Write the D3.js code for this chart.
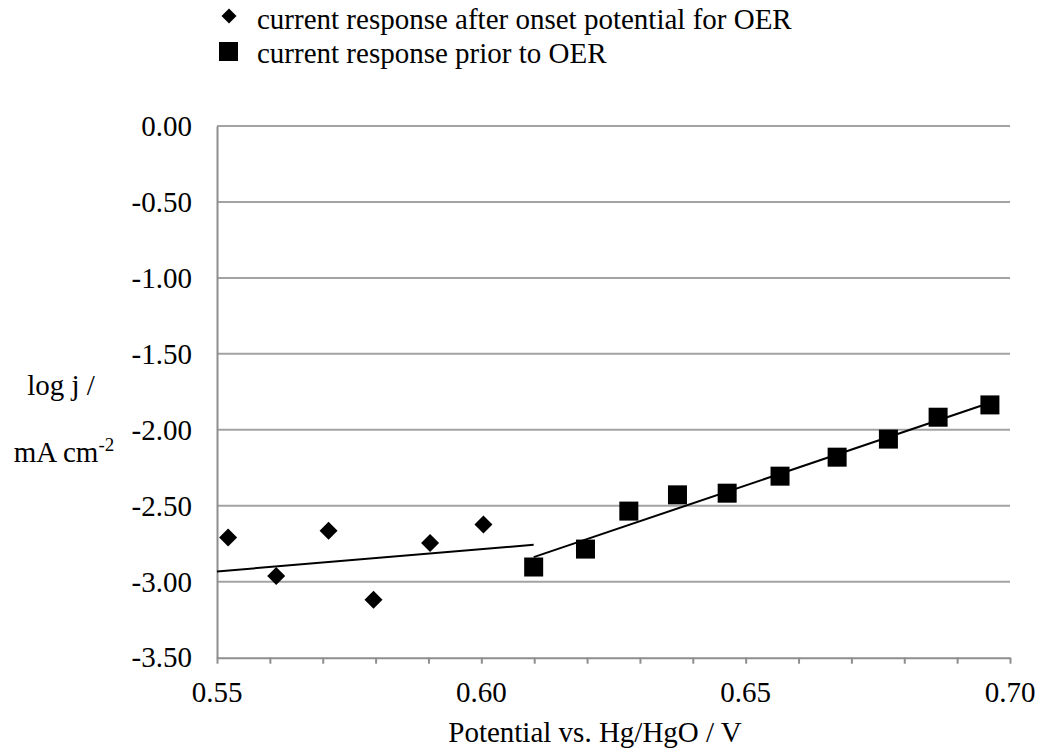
<!DOCTYPE html>
<html>
<head>
<meta charset="utf-8">
<script src="https://cdn.jsdelivr.net/npm/d3@7"></script>
<style>
  html, body { margin: 0; padding: 0; background: #fff; }
  svg text { font-family: "Liberation Serif", "Times New Roman", serif; fill: #000; }
</style>
</head>
<body>
<div id="chart"></div>
<script>
// values
const diamondX = [0.5521, 0.5612, 0.5711, 0.5796, 0.5903, 0.6004];
const diamondY = [-2.709, -2.963, -2.664, -3.118, -2.745, -2.623];

const squareX = [0.6099, 0.6197, 0.6279, 0.6371, 0.6465, 0.6565, 0.6673, 0.6770, 0.6864, 0.6962];
const squareY = [-2.903, -2.785, -2.535, -2.428, -2.417, -2.305, -2.180, -2.061, -1.917, -1.836];

// trend lines (end points)
const trendAX = [0.55, 0.6099];
const trendAY = [-2.932, -2.757];
const trendBX = [0.6099, 0.6962];
const trendBY = [-2.838, -1.822];

const xMajorTicks = [0.55, 0.60, 0.65, 0.70];
const xMinorTicks = [0.55, 0.56, 0.57, 0.58, 0.59, 0.60, 0.61, 0.62, 0.63, 0.64, 0.65, 0.66, 0.67, 0.68, 0.69, 0.70];
const yTicks = [0, -0.5, -1, -1.5, -2, -2.5, -3, -3.5];

const legendLabels = ['current response after onset potential for OER', 'current response prior to OER'];

const width = 1041, height = 751;
const plotLeft = 217, plotRight = 1010, plotTop = 126, plotBottom = 657.7;
const fontSize = 29;

const svg = d3.select('#chart')
  .append('svg')
  .attr('width', width)
  .attr('height', height);

const x = d3.scaleLinear().domain([0.55, 0.70]).range([plotLeft, plotRight]);
const y = d3.scaleLinear().domain([-3.5, 0]).range([plotBottom, plotTop]);

// gridlines
svg.append('g')
  .selectAll('line')
  .data(yTicks.filter(d => d !== -3.5))
  .enter()
  .append('line')
  .attr('x1', plotLeft)
  .attr('x2', plotRight)
  .attr('y1', d => y(d))
  .attr('y2', d => y(d))
  .attr('stroke', '#a3a3a3')
  .attr('stroke-width', 2);

// y axis (line + labels)
const yAxis = svg.append('g')
  .attr('transform', `translate(${plotLeft},0)`)
  .call(d3.axisLeft(y).tickValues(yTicks).tickSize(0).tickPadding(25).tickFormat(d => d.toFixed(2)));
yAxis.select('.domain').attr('stroke', '#8e8e8e').attr('stroke-width', 2);
yAxis.selectAll('text').attr('font-size', fontSize);

// x axis with minor ticks
const xAxis = svg.append('g')
  .attr('transform', `translate(0,${plotBottom})`)
  .call(d3.axisBottom(x).tickValues(xMinorTicks).tickSize(6).tickSizeOuter(0).tickFormat(''));
xAxis.select('.domain').attr('stroke', '#8e8e8e').attr('stroke-width', 2);
xAxis.selectAll('.tick line').attr('stroke', '#8e8e8e').attr('stroke-width', 2);

svg.append('g')
  .selectAll('text')
  .data(xMajorTicks)
  .enter()
  .append('text')
  .attr('x', d => x(d))
  .attr('y', 702)
  .attr('text-anchor', 'middle')
  .attr('font-size', fontSize)
  .text(d => d.toFixed(2));

// trend lines
const line = d3.line().x(d => x(d[0])).y(d => y(d[1]));
[[trendAX, trendAY], [trendBX, trendBY]].forEach(([xs, ys]) => {
  svg.append('path')
    .datum(xs.map((v, i) => [v, ys[i]]))
    .attr('d', line)
    .attr('fill', 'none')
    .attr('stroke', '#000')
    .attr('stroke-width', 2);
});

const diamond = r => `M0,${-r}L${r},0L0,${r}L${-r},0Z`;

// diamonds
svg.append('g')
  .selectAll('path')
  .data(diamondX.map((v, i) => [v, diamondY[i]]))
  .enter()
  .append('path')
  .attr('d', diamond(9))
  .attr('transform', d => `translate(${x(d[0])},${y(d[1])})`)
  .attr('fill', '#000');

// squares
const sq = 19;
svg.append('g')
  .selectAll('rect')
  .data(squareX.map((v, i) => [v, squareY[i]]))
  .enter()
  .append('rect')
  .attr('x', d => x(d[0]) - sq / 2)
  .attr('y', d => y(d[1]) - sq / 2)
  .attr('width', sq)
  .attr('height', sq)
  .attr('fill', '#000');

// legend
const legend = svg.append('g');
legend.append('path')
  .attr('d', diamond(7.5))
  .attr('transform', 'translate(229,16)')
  .attr('fill', '#000');
legend.append('rect')
  .attr('x', 219).attr('y', 42)
  .attr('width', 19).attr('height', 19)
  .attr('fill', '#000');
legend.selectAll('text')
  .data(legendLabels)
  .enter()
  .append('text')
  .attr('x', 257)
  .attr('y', (d, i) => 29 + i * 34)
  .attr('font-size', fontSize)
  .text(d => d);

// axis titles
svg.append('text')
  .attr('x', 595)
  .attr('y', 742)
  .attr('text-anchor', 'middle')
  .attr('font-size', fontSize)
  .text('Potential vs. Hg/HgO / V');

svg.append('text')
  .attr('x', 61)
  .attr('y', 395)
  .attr('text-anchor', 'middle')
  .attr('font-size', fontSize)
  .text('log j /');

const unit = svg.append('text')
  .attr('x', 64)
  .attr('y', 462)
  .attr('text-anchor', 'middle')
  .attr('font-size', fontSize);
unit.append('tspan').text('mA cm');
unit.append('tspan').attr('dy', -11).attr('font-size', 19).text('-2');
</script>
</body>
</html>
